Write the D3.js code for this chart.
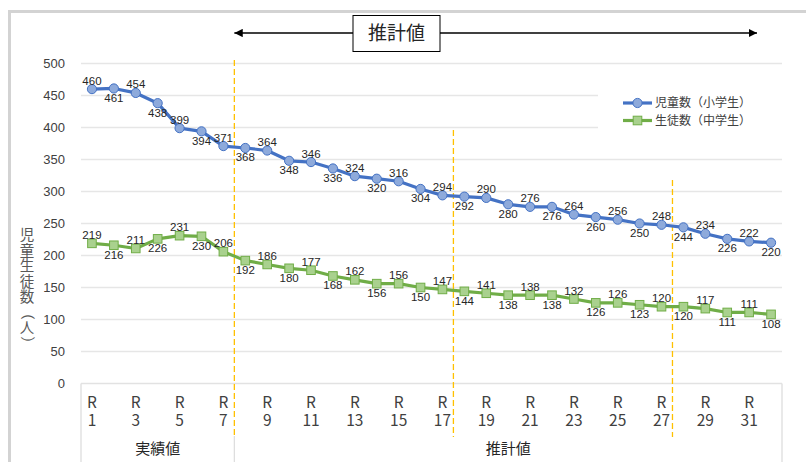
<!DOCTYPE html>
<html lang="ja">
<head>
<meta charset="utf-8">
<script src="https://cdn.jsdelivr.net/npm/d3@7"></script>
<style>
  html, body { margin: 0; padding: 0; background: #fff; }
  svg { display: block; }
  .num { font-family: "Liberation Sans", Arial, sans-serif; }
  .jp { font-family: "Noto Sans CJK JP", "Noto Sans", sans-serif; }
</style>
</head>
<body>
<svg id="chart" width="806" height="462"></svg>
<script>
// 年度（令和）
const years = [1, 2, 3, 4, 5, 6, 7, 8, 9, 10, 11, 12, 13, 14, 15, 16,
               17, 18, 19, 20, 21, 22, 23, 24, 25, 26, 27, 28, 29, 30, 31, 32];
// 児童数（小学生）
const elementary = [460, 461, 454, 438, 399, 394, 371, 368, 364, 348, 346, 336, 324, 320, 316, 304,
                    294, 292, 290, 280, 276, 276, 264, 260, 256, 250, 248, 244, 234, 226, 222, 220];
// 生徒数（中学生）
const juniorHigh = [219, 216, 211, 226, 231, 230, 206, 192, 186, 180, 177, 168, 162, 156, 156, 150,
                    147, 144, 141, 138, 138, 138, 132, 126, 126, 123, 120, 120, 117, 111, 111, 108];
const yTicks = [0, 50, 100, 150, 200, 250, 300, 350, 400, 450, 500];
const seriesNames = ["児童数（小学生）", "生徒数（中学生）"];
const groupNames = ["実績値", "推計値"];
const lastActualYear = 7;
// 区切り線を引く年度（その年度の直後）
const dividerYears = [7, 17, 27];
const headerLabel = "推計値";
const yTitle = "児童生徒数（人）";

const svg = d3.select("#chart");
const W = 806, H = 462;
const plot = { left: 81, right: 782, top: 63.5, bottom: 383.5 };

const x = d3.scaleBand().domain(years).range([plot.left, plot.right]).padding(0);
const y = d3.scaleLinear().domain([0, 500]).range([plot.bottom, plot.top]);
const cx = d => x(d) + x.bandwidth() / 2;
const edgeAfter = yr => x(yr) + x.bandwidth();

// 外枠
svg.append("rect").attr("x", 9.5).attr("y", 11.5).attr("width", W + 20).attr("height", H + 20)
  .attr("fill", "#fff").attr("stroke", "#d3d3d3").attr("stroke-width", 3);

// 目盛線
svg.append("g").selectAll("line").data(yTicks.filter(t => t > 0)).join("line")
  .attr("x1", plot.left).attr("x2", plot.right)
  .attr("y1", d => y(d)).attr("y2", d => y(d))
  .attr("stroke", "#e6e6e6").attr("stroke-width", 1.5);

// Y軸ラベル
const yAxis = d3.axisLeft(y).tickValues(yTicks).tickSize(0).tickPadding(0);
const gy = svg.append("g").attr("transform", `translate(${plot.left - 16},0)`).call(yAxis);
gy.select(".domain").remove();
gy.selectAll("text").attr("class", "num").attr("font-size", 13).attr("fill", "#404040")
  .attr("dy", "0.34em");

// 横軸の枠（階層ラベル部分）
const axisG = svg.append("g");
axisG.append("line").attr("x1", plot.left).attr("x2", plot.right)
  .attr("y1", plot.bottom).attr("y2", plot.bottom).attr("stroke", "#e2e2e2").attr("stroke-width", 1.5);
[plot.left, plot.right].forEach(px => axisG.append("line")
  .attr("x1", px).attr("x2", px).attr("y1", plot.bottom).attr("y2", H)
  .attr("stroke", "#e2e2e2").attr("stroke-width", 1.5));
axisG.append("line").attr("x1", edgeAfter(lastActualYear)).attr("x2", edgeAfter(lastActualYear))
  .attr("y1", 436).attr("y2", H).attr("stroke", "#dcdcdc").attr("stroke-width", 1.2);

// 年度ラベル（R / 数字の2段）
const xAxis = d3.axisBottom(x).tickValues(years.filter(v => v % 2 === 1)).tickSize(0).tickFormat("");
const gx = svg.append("g").attr("transform", `translate(0,${plot.bottom})`).call(xAxis);
gx.select(".domain").remove();
gx.selectAll(".tick").each(function (d) {
  const t = d3.select(this);
  t.append("text").attr("class", "jp").attr("font-size", 15.5).attr("fill", "#404040")
    .attr("text-anchor", "middle").attr("x", 0).attr("y", 24).text("R");
  t.append("text").attr("class", "jp").attr("font-size", 15.5).attr("fill", "#404040")
    .attr("text-anchor", "middle").attr("x", 0).attr("y", 42).text(d);
});

// 実績値・推計値
const groupSpans = [[plot.left, edgeAfter(lastActualYear)], [edgeAfter(lastActualYear), plot.right]];
svg.append("g").selectAll("text").data(groupNames).join("text")
  .attr("class", "jp").attr("font-size", 15).attr("fill", "#262626").attr("text-anchor", "middle")
  .attr("x", (d, i) => (groupSpans[i][0] + groupSpans[i][1]) / 2).attr("y", 454)
  .text(d => d);

// 区切りの点線
const dividerTops = [60, 130, 180];
svg.append("g").selectAll("line").data(dividerYears).join("line")
  .attr("x1", d => edgeAfter(d)).attr("x2", d => edgeAfter(d))
  .attr("y1", (d, i) => dividerTops[i]).attr("y2", 437)
  .attr("stroke", "#ffc000").attr("stroke-width", 1.3).attr("stroke-dasharray", "6,3");

// 系列
const series = [
  { name: seriesNames[0], values: elementary, line: "#4472c4", fill: "#8eaadb", shape: "circle" },
  { name: seriesNames[1], values: juniorHigh, line: "#70ad47", fill: "#a9d18e", shape: "square" }
];
const lineGen = d3.line().x((d, i) => cx(years[i])).y(d => y(d));

function drawMarker(g, shape, px, py, s) {
  if (shape === "circle") {
    g.append("circle").attr("cx", px).attr("cy", py).attr("r", 4.6)
      .attr("fill", s.fill).attr("stroke", s.line).attr("stroke-width", 1);
  } else {
    g.append("rect").attr("x", px - 4.3).attr("y", py - 4.3).attr("width", 8.6).attr("height", 8.6)
      .attr("fill", s.fill).attr("stroke", s.line).attr("stroke-width", 1);
  }
}

series.forEach(s => {
  const g = svg.append("g");
  g.append("path").datum(s.values).attr("d", lineGen)
    .attr("fill", "none").attr("stroke", s.line).attr("stroke-width", 3.2).attr("stroke-linejoin", "round");
  s.values.forEach((v, i) => drawMarker(g, s.shape, cx(years[i]), y(v), s));
  // 数値ラベル：奇数年度は上、偶数年度は下
  g.selectAll("text").data(s.values).join("text")
    .attr("class", "num").attr("font-size", 11.5).attr("fill", "#262626").attr("text-anchor", "middle")
    .attr("x", (d, i) => cx(years[i]))
    .attr("y", (d, i) => y(d) + (years[i] % 2 === 1 ? -4.5 : 13.5))
    .text(d => d);
});

// 凡例
const lg = svg.append("g");
lg.append("rect").attr("x", 598).attr("y", 88).attr("width", 184).attr("height", 46).attr("fill", "#fff");
series.forEach((s, i) => {
  const ly = 103 + i * 17.5;
  lg.append("line").attr("x1", 623).attr("x2", 652).attr("y1", ly).attr("y2", ly)
    .attr("stroke", s.line).attr("stroke-width", 3.2);
  drawMarker(lg, s.shape, 637.5, ly, s);
  lg.append("text").attr("class", "jp").attr("font-size", 12).attr("fill", "#404040")
    .attr("x", 655).attr("y", ly).attr("dy", "0.35em").text(s.name);
});

// 縦軸タイトル（縦書き：1文字ずつ配置し、括弧は90度回転）
const titleG = svg.append("g");
Array.from(yTitle).forEach((ch, i) => {
  const ty = 235 + i * 15.5;
  const t = titleG.append("text").attr("class", "jp").attr("font-size", 14.5).attr("fill", "#595959")
    .attr("text-anchor", "middle").attr("dy", "0.35em").text(ch);
  if (ch === "（" || ch === "）") {
    t.attr("transform", `translate(27,${ty}) rotate(90)`);
  } else {
    t.attr("x", 27).attr("y", ty);
  }
});

// 推計期間の矢印
const defs = svg.append("defs");
["start", "end"].forEach(k => {
  defs.append("marker").attr("id", "arrow-" + k)
    .attr("viewBox", "0 0 10 10").attr("refX", k === "end" ? 10 : 0).attr("refY", 5)
    .attr("markerWidth", 6).attr("markerHeight", 6).attr("markerUnits", "strokeWidth")
    .attr("orient", "auto")
    .append("path").attr("d", k === "end" ? "M0,0 L10,5 L0,10 Z" : "M10,0 L0,5 L10,10 Z")
    .attr("fill", "#000");
});
const arrowY = 33;
svg.append("line").attr("x1", edgeAfter(lastActualYear)).attr("x2", 757)
  .attr("y1", arrowY).attr("y2", arrowY).attr("stroke", "#000").attr("stroke-width", 1.4)
  .attr("marker-start", "url(#arrow-start)").attr("marker-end", "url(#arrow-end)");
svg.append("rect").attr("x", 353).attr("y", 15.5).attr("width", 87).attr("height", 36)
  .attr("fill", "#fff").attr("stroke", "#000").attr("stroke-width", 1);
svg.append("text").attr("class", "jp").attr("font-size", 19).attr("fill", "#262626")
  .attr("text-anchor", "middle").attr("x", 396.5).attr("y", 33.5).attr("dy", "0.35em")
  .text(headerLabel);
</script>
</body>
</html>
